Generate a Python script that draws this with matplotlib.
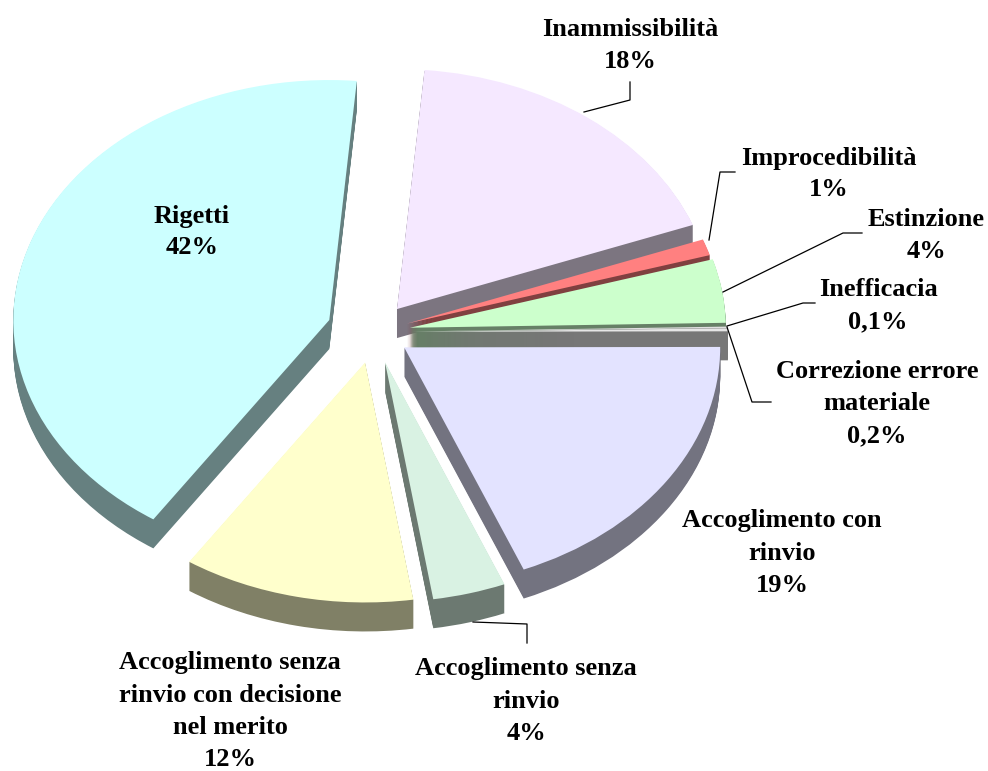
import matplotlib
matplotlib.use('Agg')
import matplotlib.pyplot as plt

# slices, clockwise from the top
categories = ['Inammissibilità', 'Improcedibilità', 'Estinzione', 'Inefficacia',
              'Correzione errore materiale', 'Accoglimento con rinvio',
              'Accoglimento senza rinvio', 'Accoglimento senza rinvio con decisione nel merito',
              'Rigetti']
values = [18, 1.1, 4.3, 0.1, 0.2, 18.95, 3.75, 11.9, 42.2]
value_labels = ['18%', '1%', '4%', '0,1%', '0,2%', '19%', '4%', '12%', '42%']

top_colors = ['#F5E8FF', '#FF8080', '#CCFFCC', '#E0E0E0', '#E6E6E6', '#E3E3FF', '#D9F2E3', '#FFFFCC', '#CCFFFF']
side_colors = ['#7C7580', '#804040', '#668066', '#707070', '#777777', '#737380', '#6C7971', '#808066', '#668080']
explode = [0.12, 0.11, 0.115, 0.12, 0.12, 0.115, 0.13, 0.13, 0.15]

W, H = 988, 771
CX, CY, RX, RY = 374, 332, 316, 240
DEPTH = 29


def ux(px):
    return (px - CX) / RX


def uy(py):
    return (CY - py) / RY


fig = plt.figure(figsize=(W / 100, H / 100), dpi=100)
ax = fig.add_axes([0, 0, 1, 1])

# side walls: stack of dark pies going down, then the top faces
for k in range(DEPTH, 0, -1):
    ax.pie(values, explode=explode, colors=side_colors, startangle=85, counterclock=False,
           center=(0, -k / RY), wedgeprops={'linewidth': 0.6, 'edgecolor': 'none'})
wedges, _ = ax.pie(values, explode=explode, colors=top_colors, startangle=85, counterclock=False,
                   center=(0, 0), wedgeprops={'linewidth': 0})

ax.set_aspect('auto')
ax.set_xlim(ux(0), ux(W))
ax.set_ylim(uy(H), uy(0))
ax.axis('off')

# leader lines
leaders = [
    [(584, 112), (630, 100), (630, 82)],
    [(709, 240), (720, 172), (735, 172)],
    [(723, 292), (843, 233), (862, 233)],
    [(727, 326), (803, 303), (815, 303)],
    [(727, 327), (752, 402), (771, 402)],
    [(473, 622), (527, 624), (527, 643)],
]
for pts in leaders:
    ax.plot([ux(p[0]) for p in pts], [uy(p[1]) for p in pts], color='black', lw=0.9)

label_style = dict(family='Liberation Serif', fontweight='bold', fontsize=19, ha='center', va='center',
                   linespacing=1.5, color='black')
labels = [
    (630, 45, 'Inammissibilità\n' + value_labels[0]),
    (829, 174, 'Improcedibilità\n' + value_labels[1]),
    (926, 235, 'Estinzione\n' + value_labels[2]),
    (878, 306, 'Inefficacia\n' + value_labels[3]),
    (877, 404, 'Correzione errore\nmateriale\n' + value_labels[4]),
    (782, 553, 'Accoglimento con\nrinvio\n' + value_labels[5]),
    (526, 701, 'Accoglimento senza\nrinvio\n' + value_labels[6]),
    (230, 711, 'Accoglimento senza\nrinvio con decisione\nnel merito\n' + value_labels[7]),
    (192, 232, 'Rigetti\n' + value_labels[8]),
]
for x, y, s in labels:
    ax.text(ux(x), uy(y), s, **label_style)

fig.savefig('out.png', dpi=100)
